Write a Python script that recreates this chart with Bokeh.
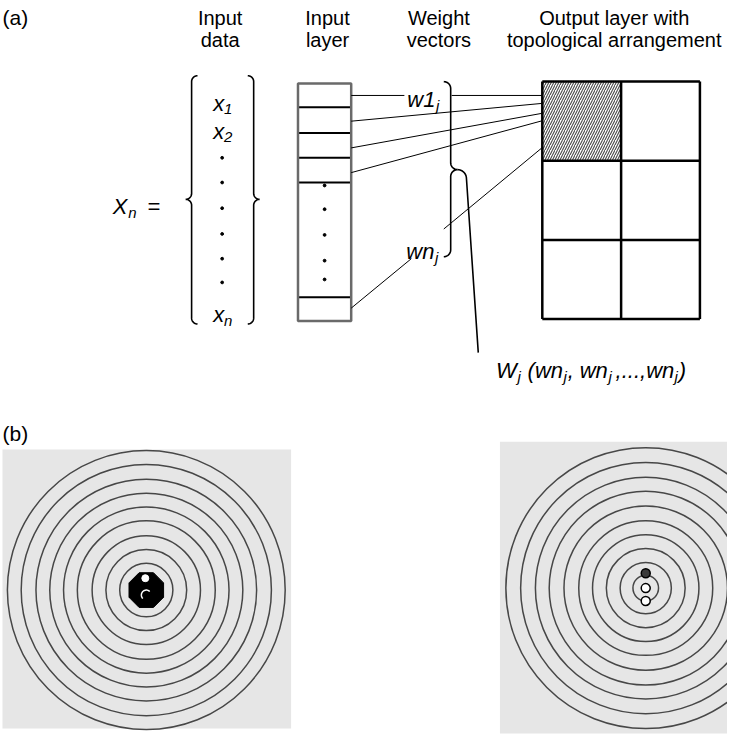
import numpy as np
from bokeh.plotting import figure
from bokeh.models import Range1d
from bokeh.embed import file_html
from bokeh.resources import INLINE
from bokeh.core.properties import value

FONT = "Liberation Sans"

# ---------------- data (diagram geometry, in reference pixel units) ----------------
header_x = [228, 337, 450, 628]
header_line1 = ["Input", "Input", "Weight", "Output layer with"]
header_line2 = ["data", "layer", "vectors", "topological arrangement"]
header_baselines = [24, 46]

panel_labels = ["(a)", "(b)"]
panel_label_x = [7, 7]
panel_label_y = [23, 444]

# input data vector: (text, is_subscript, gap_before_px)
entry_x = 221
entry_labels = [[("x", 0, 0), ("1", 1, 0)], [("x", 0, 0), ("2", 1, 0)], [("x", 0, 0), ("n", 1, 0)]]
entry_baselines = [110, 138, 323]
entry_dot_y = [165, 190, 216, 242, 267, 291]
vec_brace_top, vec_brace_bottom, vec_brace_tip = 82, 333, 207
vec_brace_left_spine, vec_brace_right_spine = 199, 262

xn_label = [("X", 0, 0), ("n", 1, 1), ("=", 0, 11)]
xn_label_pos = (119, 214)

# input layer
layer_left, layer_right, layer_top, layer_bottom = 307, 361, 90, 330
layer_dividers = [114, 140, 165, 190, 306]
layer_dot_y = [193, 217, 243, 269, 288]

# weight connections
conn_x0 = [361, 463, 361, 361, 361, 455, 361]
conn_y0 = [102, 102, 128, 155, 180, 237, 317]
conn_x1 = [415, 557, 555, 555, 557, 557, 422]
conn_y1 = [102, 102, 110, 120, 127, 153, 267]

w1_label = [("w1", 0, 0), ("j", 1, 1)]
w1_pos = (418, 106)
wn_label = [("wn", 0, 0), ("j", 1, 1)]
wn_pos = (417, 260)
w_brace_spine, w_brace_top, w_brace_bottom, w_brace_tip = 462, 88, 265, 177
wj_line_end = (490, 362)
wj_label = [("W", 0, 0), ("j", 1, 1), ("(wn", 0, 7), ("j", 1, 1), (",", 0, 1), ("wn", 0, 6),
            ("j", 1, 1), (",...,wn", 0, 4), ("j", 1, 1), (")", 0, 1)]
wj_pos = (508, 380)

# output grid
grid_x = [555, 635, 715]
grid_y = [88, 168, 248, 328]

# panel (b)
left_bg = (7, 300, 460, 742)
left_center = (153, 602)
left_radii = [27, 41, 55, 70, 84, 98, 112, 127, 141]
oct_radius = 19
right_bg = (512, 760, 452, 747)
right_center = (660, 600)
right_radii = [13, 26, 40, 54, 68, 83, 98, 112, 127, 142]
right_dots_y = [585, 600, 613]
right_dots_fill = ["#3a3a3a", "white", "white"]

# ---------------- figure ----------------
p = figure(width=727, height=735, x_range=Range1d(5, 743), y_range=Range1d(749, 6),
           output_backend="svg", toolbar_location=None, min_border=0)
p.axis.visible = False
p.grid.visible = False
p.outline_line_color = None
p.background_fill_color = "white"

W = {'W': 0.944, 'w': 0.722, 'n': 0.556, 'j': 0.222, '(': 0.333, ')': 0.333, ',': 0.278,
     '.': 0.278, ' ': 0.278, '1': 0.556, '2': 0.556, 'x': 0.5, 'X': 0.667, '=': 0.584}

MAIN, SUB = 22, 15


def rich(parts, x0, y0, main=MAIN, sub=SUB, drop=6):
    x = x0
    mx, my, mt, sx, sy, st = [], [], [], [], [], []
    for s, is_sub, gap in parts:
        x += gap
        size = sub if is_sub else main
        if is_sub:
            sx.append(x); sy.append(y0 + drop); st.append(s)
        else:
            mx.append(x); my.append(y0); mt.append(s)
        x += sum(W.get(c, 0.55) for c in s) * size
    p.text(mx, my, text=mt, text_font=value(FONT), text_font_style="italic",
           text_font_size=f"{main}px", text_baseline="alphabetic", text_color="black")
    p.text(sx, sy, text=st, text_font=value(FONT), text_font_style="italic",
           text_font_size=f"{sub}px", text_baseline="alphabetic", text_color="black")


# headers
for row, labels in zip(header_baselines, [header_line1, header_line2]):
    p.text(header_x, [row] * len(header_x), text=labels, text_font=value(FONT),
           text_font_size="20px", text_align="center", text_baseline="alphabetic",
           text_color="black")
p.text(panel_label_x, panel_label_y, text=panel_labels, text_font=value(FONT),
       text_font_size="21px", text_baseline="alphabetic", text_color="black")


def brace(spine, top, bottom, tip, d=1, r=7):
    pts = []
    def arc(cx, cy, t0, t1):
        t = np.radians(np.linspace(t0, t1, 12))
        return list(zip(cx + r * np.cos(t), cy + r * np.sin(t)))
    pts += arc(spine - r, top + r, -90, 0)
    pts += arc(spine + r, tip - r, 180, 90)
    pts += arc(spine + r, tip + r, 270, 180)
    pts += arc(spine - r, bottom - r, 0, 90)
    xs = np.array([q[0] for q in pts]); ys = np.array([q[1] for q in pts])
    if d < 0:
        xs = 2 * spine - xs
    return xs, ys

# vector braces
bx, by = brace(vec_brace_left_spine, vec_brace_top, vec_brace_bottom, vec_brace_tip, d=-1, r=6)
p.line(bx, by, line_color="black", line_width=1.6)
bx, by = brace(vec_brace_right_spine, vec_brace_top, vec_brace_bottom, vec_brace_tip, d=1, r=6)
p.line(bx, by, line_color="black", line_width=1.6)

for lab, yb in zip(entry_labels, entry_baselines):
    rich(lab, entry_x, yb)
p.scatter([entry_x + 9] * len(entry_dot_y), entry_dot_y, size=2.8, color="black")
rich(xn_label, *xn_label_pos)

# input layer
p.segment(x0=[layer_left] * len(layer_dividers), y0=layer_dividers,
          x1=[layer_right] * len(layer_dividers), y1=layer_dividers,
          line_color="black", line_width=2)
p.quad(left=[layer_left], right=[layer_right], top=[layer_top], bottom=[layer_bottom],
       fill_color=None, line_color="#6a6a6a", line_width=2.5)
p.scatter([(layer_left + layer_right) / 2] * len(layer_dot_y), layer_dot_y, size=2.8, color="black")

# connections
p.segment(x0=conn_x0, y0=conn_y0, x1=conn_x1, y1=conn_y1, line_color="black", line_width=1)
rich(w1_label, *w1_pos)
rich(wn_label, *wn_pos)

bx, by = brace(w_brace_spine, w_brace_top, w_brace_bottom, w_brace_tip, d=1, r=7)
p.line(bx, by, line_color="black", line_width=1.6)
r2 = 9
t = np.radians(np.linspace(-90, 0, 12))
hx = list(w_brace_spine + 7 + r2 * np.cos(t)) + [wj_line_end[0]]
hy = list(w_brace_tip + r2 + r2 * np.sin(t)) + [wj_line_end[1]]
p.line(hx, hy, line_color="black", line_width=1.6)
rich(wj_label, *wj_pos)

# output grid
p.quad(left=[grid_x[0]], right=[grid_x[1]], top=[grid_y[0]], bottom=[grid_y[1]],
       fill_color="white", line_color=None, hatch_pattern="/", hatch_color="#4a4a4a",
       hatch_scale=5, hatch_weight=1.1)
for gx in grid_x:
    p.segment(x0=[gx], y0=[grid_y[0]], x1=[gx], y1=[grid_y[-1]], line_color="black", line_width=2.5)
for gy in grid_y:
    p.segment(x0=[grid_x[0]], y0=[gy], x1=[grid_x[-1]], y1=[gy], line_color="black", line_width=2.5)

# panel (b) left
p.quad(left=[left_bg[0]], right=[left_bg[1]], top=[left_bg[2]], bottom=[left_bg[3]],
       fill_color="#e6e6e6", line_color=None)
p.ellipse(x=[left_center[0]] * len(left_radii), y=[left_center[1]] * len(left_radii),
          width=[2 * r for r in left_radii], height=[2 * r for r in left_radii],
          fill_color=None, line_color="#474747", line_width=1.5)
ang = np.radians(22.5 + 45 * np.arange(8))
p.patch(left_center[0] + oct_radius * np.cos(ang), left_center[1] + oct_radius * np.sin(ang),
        fill_color="black", line_color="black")
p.scatter([left_center[0] - 1], [left_center[1] - 12], size=7, color="white")
t = np.radians(np.linspace(-45, -225, 20))
p.line(left_center[0] + 5 * np.cos(t), left_center[1] + 5 + 5 * np.sin(t),
       line_color="white", line_width=1.5)

# panel (b) right (cut off by the right edge, as in the reference)
p.quad(left=[right_bg[0]], right=[right_bg[1]], top=[right_bg[2]], bottom=[right_bg[3]],
       fill_color="#e6e6e6", line_color=None)
p.ellipse(x=[right_center[0]] * len(right_radii), y=[right_center[1]] * len(right_radii),
          width=[2 * r for r in right_radii], height=[2 * r for r in right_radii],
          fill_color=None, line_color="#474747", line_width=1.5)
p.scatter([right_center[0]] * 3, right_dots_y, size=9, fill_color=right_dots_fill,
          line_color="black", line_width=1.5)

open("out.html", "w").write(file_html(p, INLINE))
